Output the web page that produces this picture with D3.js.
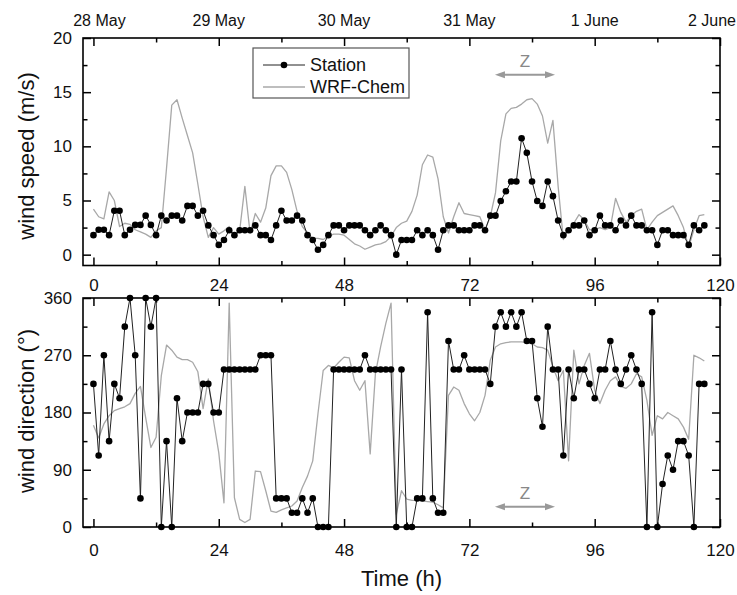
<!DOCTYPE html>
<html><head><meta charset="utf-8">
<script src="https://cdn.jsdelivr.net/npm/d3@7"></script>
<style>
body{margin:0;background:#fff}
svg{display:block}
text{font-family:Arial,"Liberation Sans",sans-serif;fill:#111}
</style>
</head><body>
<svg id="c" width="737" height="595"></svg>
<script>
// ---------- data ----------
const hours = d3.range(0, 118);          // hourly time index (h)
const stationSpeed = [
 1.8,2.3,2.3,1.8,4.05,4.05,1.8,2.3,2.75,2.75,
 3.6,2.75,1.8,3.6,3.15,3.6,3.6,3.15,4.5,4.5,
 3.6,4.05,2.7,1.8,0.9,1.35,2.25,1.8,2.25,2.25,
 2.25,2.7,1.8,1.8,1.35,2.7,4.05,3.15,3.15,3.6,
 3.15,1.8,1.35,0.45,0.9,1.8,2.7,2.7,2.25,2.7,
 2.7,2.7,2.25,1.8,2.25,2.7,2.25,1.8,0,1.35,
 1.35,1.35,2.25,1.8,2.25,1.8,0.45,2.25,2.7,2.7,
 2.25,2.25,2.25,2.7,2.7,2.25,3.6,3.6,4.95,5.85,
 6.75,6.75,10.75,9.4,6.75,4.95,4.5,6.75,5.4,3.15,
 1.8,2.25,2.7,2.7,3.15,1.8,2.25,3.6,2.7,2.7,
 2.25,3.15,2.7,3.6,2.7,2.7,2.25,2.25,0.9,2.25,
 2.25,1.8,1.8,1.8,0.9,2.7,2.25,2.7];
const wrfSpeed = [
 4.2,3.5,3.3,5.8,5.0,2.6,2.9,2.8,2.3,2.1,
 1.9,1.6,2.2,2.5,8.0,13.8,14.3,12.6,11.0,9.4,
 6.5,3.5,1.6,2.5,1.9,2.2,2.6,1.7,2.2,6.3,
 2.0,3.8,3.0,4.3,7.3,8.2,8.2,7.6,6.0,4.0,
 2.6,2.0,1.5,1.5,1.4,1.7,1.9,1.9,1.8,1.4,
 1.0,0.8,0.5,0.7,0.9,1.0,1.2,1.7,2.5,2.9,
 3.1,4.0,5.5,8.3,9.2,9.0,7.0,3.5,2.0,3.5,
 4.8,3.8,3.7,3.6,3.5,2.3,3.5,5.7,10.5,13.0,
 13.5,13.6,13.9,14.3,14.4,13.9,12.8,10.3,12.4,6.3,
 1.4,2.3,2.9,3.7,3.2,2.3,2.3,2.5,2.3,2.5,
 5.2,3.9,3.0,3.6,4.0,4.2,2.3,3.0,3.6,3.9,
 4.2,4.5,3.6,2.5,0.7,2.3,3.6,3.7];
const stationDir = [
 225,112.5,270,135,225,202.5,315,360,270,45,
 360,315,360,0,135,0,202.5,135,180,180,
 180,225,225,180,180,247.5,247.5,247.5,247.5,247.5,
 247.5,247.5,270,270,270,45,45,45,22.5,22.5,
 45,22.5,45,0,0,0,247.5,247.5,247.5,247.5,
 247.5,247.5,270,247.5,247.5,247.5,247.5,247.5,0,247.5,
 0,0,45,45,337.5,45,22.5,22.5,292.5,247.5,
 247.5,270,247.5,247.5,247.5,247.5,225,315,337.5,315,
 337.5,315,337.5,292.5,292.5,202.5,157.5,315,247.5,247.5,
 112.5,247.5,202.5,247.5,247.5,225,202.5,247.5,247.5,292.5,
 247.5,225,247.5,270,247.5,225,0,337.5,0,67.5,
 112.5,90,135,135,112.5,0,225,225];
const wrfDir = [
 160,140,162,175,183,186,189,194,210,221,
 172,125,141,238,286,278,267,263,263,259,
 244,186,233,167,117,38,352,46,12,7,
 12,88,87,57,25,23,27,30,33,41,
 62,80,104,178,246,254,250,259,267,266,
 230,215,230,115,241,283,320,352,20,57,
 44,42,42,41,40,39,35,30,207,220,
 215,194,178,167,180,207,262,283,288,290,
 291,291,291,290,288,283,282,278,252,230,
 246,104,278,225,254,273,215,194,215,230,
 236,221,218,225,241,236,199,144,175,170,
 180,175,170,157,138,270,266,261];
const dateLabels = ["28 May","29 May","30 May","31 May","1 June","2 June"];
const dateHours = [0,24,48,72,96,120];
const xMajorTicks = [0,24,48,72,96,120];
const xMinorTicks = [12,36,60,84,108];
const speedMajor = [0,5,10,15,20];
const speedMinor = [2.5,7.5,12.5,17.5];
const dirMajor = [0,90,180,270,360];
const dirMinor = [45,135,225,315];
const zoneHours = [76.9, 88.4];   // "Z" period
const seriesNames = ["Station","WRF-Chem"];

// ---------- layout ----------
const svg = d3.select("#c");
const L = 83, R = 720;
const x = d3.scaleLinear().domain([-2,120]).range([L,R]);
const ySpd = d3.scaleLinear().domain([-1,20]).range([265.5,38]);
const yDir = d3.scaleLinear().domain([0,360]).range([527,298]);

const MAJ = 8, MIN = 4.5;

function frame(yScale, yMaj, yMin, topY, botY, opts){
  const g = svg.append("g");
  const mk = (axisFn, scale, ticks, size, tx, ty, fmt, pad) => {
    const ax = axisFn(scale).tickValues(ticks).tickSizeInner(-size).tickSizeOuter(0)
      .tickPadding(pad||0).tickFormat(fmt || (()=>""));
    const a = g.append("g").attr("transform",`translate(${tx},${ty})`).call(ax);
    a.select(".domain").remove();
    a.selectAll("line").attr("stroke","#000").attr("stroke-width",1.5);
    a.selectAll("text").attr("font-size",17).style("fill","#111").attr("font-family","Arial, 'Liberation Sans', sans-serif");
    return a;
  };
  mk(d3.axisBottom, x, xMinorTicks, MIN, 0, botY);
  mk(d3.axisBottom, x, xMajorTicks, MAJ, 0, botY, opts.bottomLabels ? d3.format("d") : null, opts.bottomPad);
  mk(d3.axisTop, x, xMinorTicks, MIN, 0, topY);
  mk(d3.axisTop, x, xMajorTicks, MAJ, 0, topY);
  mk(d3.axisLeft, yScale, yMin, MIN, L, 0);
  mk(d3.axisLeft, yScale, yMaj, MAJ, L, 0, d3.format("d"), 11);
  mk(d3.axisRight, yScale, yMin, MIN, R, 0);
  mk(d3.axisRight, yScale, yMaj, MAJ, R, 0);
  g.append("rect").attr("x",L).attr("y",topY).attr("width",R-L).attr("height",botY-topY)
    .attr("fill","none").attr("stroke","#000").attr("stroke-width",1.6);
}

function series(yScale, wrf, st){
  const g = svg.append("g");
  const line = d3.line().x((d,i)=>x(hours[i])).y(d=>yScale(d));
  g.append("path").datum(wrf).attr("d",line).attr("fill","none")
    .attr("stroke","#a8a8a8").attr("stroke-width",1.3).attr("stroke-linejoin","round");
  g.append("path").datum(st).attr("d",line).attr("fill","none")
    .attr("stroke","#222").attr("stroke-width",1);
  g.selectAll("circle").data(st).join("circle")
    .attr("cx",(d,i)=>x(hours[i])).attr("cy",d=>yScale(d)).attr("r",3.3).attr("fill","#000");
}

function zArrow(yPix){
  const x1 = x(zoneHours[0]), x2 = x(zoneHours[1]);
  const g = svg.append("g");
  g.append("line").attr("x1",x1+6).attr("x2",x2-6).attr("y1",yPix).attr("y2",yPix)
    .attr("stroke","#999").attr("stroke-width",2);
  g.append("path").attr("d",`M${x1},${yPix} L${x1+10},${yPix-3.5} L${x1+10},${yPix+3.5} Z`).attr("fill","#999");
  g.append("path").attr("d",`M${x2},${yPix} L${x2-10},${yPix-3.5} L${x2-10},${yPix+3.5} Z`).attr("fill","#999");
  g.append("text").attr("x",(x1+x2)/2).attr("y",yPix-8).attr("text-anchor","middle")
    .attr("font-size",17).style("fill","#888").text("Z");
}

// top panel
series(ySpd, wrfSpeed, stationSpeed);
frame(ySpd, speedMajor, speedMinor, 38, 265.5, {bottomLabels:true, bottomPad:13});
// bottom panel
series(yDir, wrfDir, stationDir);
frame(yDir, dirMajor, dirMinor, 298, 527, {bottomLabels:true, bottomPad:17});

zArrow(ySpd(16.6));
zArrow(yDir(32));

// date labels on top
dateLabels.forEach((t,i)=>{
  const tx = svg.append("text").attr("y",26).attr("font-size",16).attr("text-anchor","middle").text(t);
  let cx = x(dateHours[i]);
  const w = tx.node().getComputedTextLength();
  if (i === 0) cx += 6;
  cx = Math.min(cx, 736 - w/2);
  tx.attr("x", cx);
});

// axis titles
svg.append("text").attr("transform","translate(34,156) rotate(-90)").attr("text-anchor","middle")
  .attr("font-size",22).text("wind speed (m/s)");
svg.append("text").attr("transform","translate(34,411) rotate(-90)").attr("text-anchor","middle")
  .attr("font-size",22).text("wind direction (°)");
svg.append("text").attr("x",(L+R)/2).attr("y",586).attr("text-anchor","middle")
  .attr("font-size",22).text("Time (h)");

// legend
const lg = svg.append("g");
lg.append("rect").attr("x",253).attr("y",48).attr("width",156).attr("height",50)
  .attr("fill","#fff").attr("stroke","#555").attr("stroke-width",1.2);
lg.append("line").attr("x1",263).attr("x2",305).attr("y1",65).attr("y2",65).attr("stroke","#222").attr("stroke-width",1);
lg.append("circle").attr("cx",284).attr("cy",65).attr("r",3.3).attr("fill","#000");
lg.append("text").attr("x",310).attr("y",71).attr("font-size",18).text(seriesNames[0]);
lg.append("line").attr("x1",263).attr("x2",305).attr("y1",87).attr("y2",87).attr("stroke","#a8a8a8").attr("stroke-width",1.3);
lg.append("text").attr("x",310).attr("y",93).attr("font-size",18).text(seriesNames[1]);
</script>
</body></html>
